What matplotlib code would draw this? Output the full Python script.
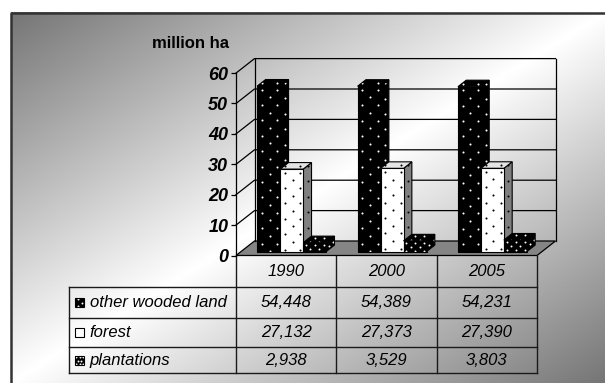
import numpy as np
import matplotlib
matplotlib.use("Agg")
import matplotlib.pyplot as plt
from matplotlib.patches import Polygon, Rectangle

# ---- data -------------------------------------------------------------
years = ["1990", "2000", "2005"]
series_names = ["other wooded land", "forest", "plantations"]
other_wooded_land = [54.448, 54.389, 54.231]
forest = [27.132, 27.373, 27.390]
plantations = [2.938, 3.529, 3.803]
y_ticks = [0, 10, 20, 30, 40, 50, 60]
unit_label = "million ha"

plt.rcParams["font.family"] = ["Liberation Sans", "DejaVu Sans"]

W, H = 605, 383
fig = plt.figure(figsize=(W / 100, H / 100), dpi=100)

# ---- background canvas (pixel coordinates) -----------------------------
bg = fig.add_axes([0, 0, 1, 1], zorder=0)
bg.set_xlim(0, W)
bg.set_ylim(H, 0)
bg.axis("off")

bx0, by0 = 10.5, 12.5
gx, gy = np.meshgrid(np.linspace(0, 1, 400), np.linspace(0, 1, 300))
t = (gx + gy) / 2
shade = 1 - 0.54 * np.abs(2 * t - 1)
bg.imshow(shade, cmap="gray", vmin=0, vmax=1, extent=(bx0, W, H, by0),
          aspect="auto", interpolation="bilinear", zorder=0)
bg.plot([bx0, bx0, W], [H, by0, by0], color="#333333", lw=1.8, zorder=1,
        solid_capstyle="butt")

bg.text(191, 48.5, unit_label, fontsize=12, fontweight="bold",
        ha="center", va="baseline")

# ---- plot area (front plane of the 3-D box) ----------------------------
PX0, PX1 = 236.0, 537.0     # left/right of front plane, px
PY0 = 255.5                 # baseline of front plane, px
PX_PER_UNIT = 3.04
YMAX = 60
n = len(years)
CAT_W = (PX1 - PX0) / n

ax = fig.add_axes([PX0 / W, (H - PY0) / H, (PX1 - PX0) / W,
                   YMAX * PX_PER_UNIT / H], zorder=2)
ax.set_xlim(0, n)
ax.set_ylim(0, YMAX)
ax.patch.set_visible(False)
for s in ["top", "right", "bottom"]:
    ax.spines[s].set_visible(False)
ax.spines["left"].set_linewidth(0.9)
ax.set_xticks([])
ax.set_yticks(y_ticks)
ax.tick_params(axis="y", direction="out", length=3.6, width=0.9, pad=2,
               labelsize=13)
for lab in ax.get_yticklabels():
    lab.set_fontweight("bold")
    lab.set_fontstyle("italic")

# depth of the box in data units
DX = 18.5 / CAT_W
DY = 14.5 / PX_PER_UNIT

# floor
ax.add_patch(Polygon([(0, 0), (n, 0), (n + DX, DY), (DX, DY)], closed=True,
                     facecolor="#858585", edgecolor="black", lw=0.9,
                     clip_on=False, zorder=1))
# walls and gridlines
line_kw = dict(color="black", lw=0.9, clip_on=False, zorder=1)
ax.plot([DX, DX], [DY, YMAX + DY], **line_kw)
ax.plot([n + DX, n + DX], [DY, YMAX + DY], **line_kw)
for v in y_ticks[1:]:
    ax.plot([0, DX, n + DX], [v, v + DY, v + DY], **line_kw)


def to_px(x, y):
    return PX0 + x * CAT_W, PY0 - y * PX_PER_UNIT


def to_data(px, py):
    return (px - PX0) / CAT_W, (PY0 - py) / PX_PER_UNIT


def dotted(target, patch, pts_px, row_step, col_step, color, size, z,
           conv=None):
    """Sprinkle a staggered dot texture over a face, clipped to it."""
    xs_px, ys_px = zip(*pts_px)
    x0, x1 = min(xs_px), max(xs_px)
    y0, y1 = min(ys_px), max(ys_px)
    px, py = [], []
    r = 0
    y = y0 + row_step * 0.45
    while y < y1:
        shift = (col_step / 2) if r % 2 else 0.0
        x = x0 + col_step * 0.3 + shift
        while x < x1:
            px.append(x)
            py.append(y)
            x += col_step
        y += row_step
        r += 1
    if not px:
        return
    if conv is not None:
        px, py = conv(np.array(px), np.array(py))
    sc = target.scatter(px, py, s=size, c=color, marker="o", linewidths=0,
                        zorder=z, clip_on=True)
    sc.set_clip_path(patch)


# bars
GROUP_OFF = 0.162
BAR_W = 0.229
F0, F1 = 0.27, 0.72
styles = [
    dict(front="black", top="black", side="black", dots="white",
         row=7.7, col=15.4, size=2.2),
    dict(front="white", top="#e4e4e4", side="#808080", dots="black",
         row=7.7, col=15.4, size=2.2),
    dict(front="black", top="black", side="black", dots="white",
         row=4.2, col=9.0, size=2.0),
]
series = [other_wooded_land, forest, plantations]
bdx, bdy = (F1 - F0) * DX, (F1 - F0) * DY


def face(pts, fc, st, z):
    p = Polygon(pts, closed=True, facecolor=fc, lw=0, clip_on=False,
                zorder=z)
    ax.add_patch(p)
    dotted(ax, p, [to_px(*q) for q in pts], st["row"], st["col"],
           st["dots"], st["size"], z + 0.005, conv=to_data)
    ax.add_patch(Polygon(pts, closed=True, fill=False, edgecolor="black",
                         lw=0.8, clip_on=False, zorder=z + 0.01))


for i in range(n):
    for j, vals in enumerate(series):
        st = styles[j]
        xl = i + GROUP_OFF + j * BAR_W + F0 * DX
        xr = xl + BAR_W
        yb = F0 * DY
        yt = yb + vals[i]
        z = 3 + i * 0.3 + j * 0.05
        face([(xr, yb), (xr + bdx, yb + bdy), (xr + bdx, yt + bdy), (xr, yt)],
             st["side"], st, z)
        face([(xl, yt), (xr, yt), (xr + bdx, yt + bdy), (xl + bdx, yt + bdy)],
             st["top"], st, z + 0.02)
        face([(xl, yb), (xr, yb), (xr, yt), (xl, yt)],
             st["front"], st, z + 0.03)

# ---- data table (pixel coordinates) ------------------------------------
col_edges = [PX0 + k * CAT_W for k in range(n + 1)]
row_edges = [PY0, 286.5, 317.5, 346.7, 373.3]
TX0 = 69.3
tkw = dict(color="#1a1a1a", lw=1.0, zorder=2)
for x in col_edges:
    bg.plot([x, x], [row_edges[0], row_edges[-1]], **tkw)
for y in row_edges[1:]:
    bg.plot([TX0, PX1], [y, y], **tkw)
bg.plot([TX0, TX0], [row_edges[1], row_edges[-1]], **tkw)

FS = 12
for k, yr in enumerate(years):
    cx = (col_edges[k] + col_edges[k + 1]) / 2
    bg.text(cx, (row_edges[0] + row_edges[1]) / 2 + 0.5, yr, fontsize=FS,
            fontstyle="italic", ha="center", va="center", zorder=3)

key_dots = [(3.5, 9.0), (99, 99), (3.6, 3.6)]
for j, (name, vals) in enumerate(zip(series_names, series)):
    cy = (row_edges[j + 1] + row_edges[j + 2]) / 2
    st = styles[j]
    kp = Rectangle((75, cy - 4.5), 9, 9, facecolor=st["front"], lw=0,
                   zorder=3)
    bg.add_patch(kp)
    dotted(bg, kp, [(75, cy - 4.5), (84, cy + 4.5)], key_dots[j][0],
           key_dots[j][1], st["dots"], 2.0, 3.05)
    bg.add_patch(Rectangle((75, cy - 4.5), 9, 9, fill=False,
                           edgecolor="black", lw=0.8, zorder=3.1))
    bg.text(89.5, cy + 0.5, name, fontsize=FS, fontstyle="italic",
            ha="left", va="center", zorder=3)
    for k, v in enumerate(vals):
        cx = (col_edges[k] + col_edges[k + 1]) / 2
        bg.text(cx, cy + 0.5, f"{v:.3f}".replace(".", ","), fontsize=FS,
                fontstyle="italic", ha="center", va="center", zorder=3)

fig.savefig("out.png", dpi=100)
